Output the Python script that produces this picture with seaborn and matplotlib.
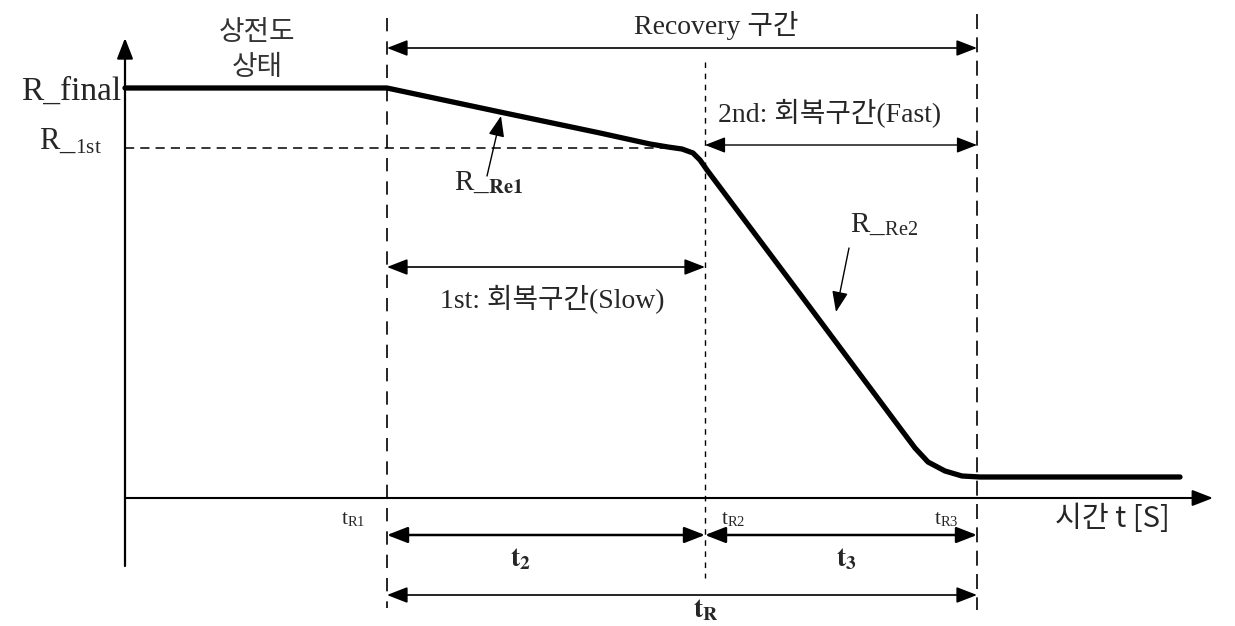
import matplotlib
matplotlib.use("Agg")
import matplotlib.pyplot as plt
import seaborn as sns
import pandas as pd

sns.set_theme(style="white")
plt.rcParams["font.family"] = ["Liberation Serif", "Noto Sans CJK KR", "DejaVu Sans"]
plt.rcParams["mathtext.fontset"] = "stix"

# Resistance-recovery profile (time on x, resistance drawn downward on screen y)
curve_t = [125, 387, 500, 600, 650, 668, 682, 693, 700, 707, 800, 900, 915, 928, 945, 962, 980, 1180]
curve_r = [88, 88, 112, 133, 144, 147, 149, 153, 160, 170, 294, 428, 448, 462, 471, 476, 477, 477]

# Characteristic levels and instants
r_final, r_1st = 88, 148
t_r1, t_r2, t_r3 = 387, 705, 977

KR = ["Liberation Serif", "Noto Sans CJK KR", "DejaVu Sans"]
SANS = ["Noto Sans CJK KR", "DejaVu Sans"]

fig = plt.figure(figsize=(12.35, 6.26), dpi=100)
ax = fig.add_axes([0, 0, 1, 1])
ax.set_xlim(0, 1235)
ax.set_ylim(626, 0)
ax.axis("off")

df = pd.DataFrame({"t": curve_t, "r": curve_r})
sns.lineplot(data=df, x="t", y="r", sort=False, color="black", linewidth=3.8, ax=ax,
             solid_joinstyle="round", solid_capstyle="round")

def arrow(x0, y0, x1, y1, style="-|>", lw=1.2, ms=14):
    ax.annotate("", xy=(x1, y1), xytext=(x0, y0),
                arrowprops=dict(arrowstyle=f"{style},head_length=0.9,head_width=0.35",
                                color="black", lw=lw, shrinkA=0, shrinkB=0,
                                mutation_scale=ms))

# axes of the diagram
arrow(125, 566, 125, 38, lw=1.6)
arrow(125, 498, 1213, 498, lw=1.5)

# level reference
ax.plot([125, 680], [r_1st, r_1st], color="black", lw=1.1, ls=(0, (6, 4)))

# time markers
ax.plot([t_r1, t_r1], [18, 608], color="black", lw=1.2, ls=(0, (8, 6)))
ax.plot([t_r2, t_r2], [62, 578], color="black", lw=1.0, ls=(0, (4, 4)))
ax.plot([t_r3, t_r3], [14, 610], color="black", lw=1.2, ls=(0, (9, 5)))

# interval arrows
arrow(t_r1, 48, t_r3, 48, style="<|-|>")
arrow(t_r2, 145, t_r3, 145, style="<|-|>", lw=1.0)
arrow(t_r1, 267, t_r2, 267, style="<|-|>")
arrow(t_r1, 535, t_r2, 535, style="<|-|>", lw=1.8)
arrow(t_r2, 535, t_r3, 535, style="<|-|>", lw=1.8)
arrow(t_r1, 595, t_r3, 595, style="<|-|>")

# pointer arrows to the slopes
arrow(487, 176, 501, 116, lw=1.0)
arrow(849, 248, 836, 312, lw=1.0)

# text labels
ax.text(257, 33, "상전도", ha="center", va="center", fontsize=20, family=KR, color="#333333")
ax.text(257, 68, "상태", ha="center", va="center", fontsize=20, family=KR, color="#333333")
ax.text(716, 25, "Recovery 구간", ha="center", va="center", fontsize=20, family=KR)
ax.text(121, 100, "R_final", ha="right", va="baseline", fontsize=24, family=KR)
ax.text(39, 149, r"R_$_{\mathregular{1st}}$", ha="left", va="baseline", fontsize=22, family=KR)
ax.text(454, 190, r"R_$_{\mathbf{Re1}}$", ha="left", va="baseline", fontsize=21, family=KR)
ax.text(850, 232, r"R_$_{\mathregular{Re2}}$", ha="left", va="baseline", fontsize=21, family=KR)
ax.text(718, 114, "2nd: 회복구간(Fast)", ha="left", va="center", fontsize=20, family=KR)
ax.text(552, 300, "1st: 회복구간(Slow)", ha="center", va="center", fontsize=20, family=KR)
ax.text(341, 524, r"t$_{\mathregular{R1}}$", ha="left", va="baseline", fontsize=15, family=KR)
ax.text(721, 524, r"t$_{\mathregular{R2}}$", ha="left", va="baseline", fontsize=15, family=KR)
ax.text(934, 524, r"t$_{\mathregular{R3}}$", ha="left", va="baseline", fontsize=15, family=KR)
ax.text(1055, 519, "시간 t [S]", ha="left", va="center", fontsize=21, family=SANS)
ax.text(521, 566, r"$\mathbf{t_2}$", ha="center", va="baseline", fontsize=20)
ax.text(846, 566, r"$\mathbf{t_3}$", ha="center", va="baseline", fontsize=20)
ax.text(706, 617, r"$\mathbf{t_R}$", ha="center", va="baseline", fontsize=20)

fig.savefig("out.png", dpi=100, facecolor="white")
